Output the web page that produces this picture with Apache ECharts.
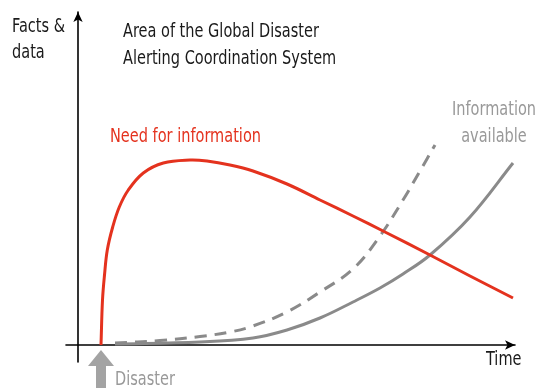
<!DOCTYPE html>
<html><head><meta charset="utf-8">
<script src="https://cdn.jsdelivr.net/npm/echarts@6/dist/echarts.min.js"></script>
<style>html,body{margin:0;padding:0;background:#fff}#c{width:538px;height:388px}</style>
</head><body><div id="c"></div>
<script>
// Need for information (red)
const needX = [2.3, 2.45, 2.65, 2.93, 3.47, 4.13, 5.03, 6.53, 8.53, 11.2, 12.9, 15.2, 17.5, 20.9, 24.2, 27.5, 30.7, 35.2, 39.2, 43.5];
const needY = [0, 4.5, 7.0, 9.5, 11.8, 13.8, 15.5, 17.2, 18.2, 18.5, 18.4, 18.0, 17.4, 16.1, 14.5, 12.9, 11.3, 9.0, 6.9, 4.7];
// Information available (dashed grey)
const dashX = [3.7, 8.2, 12.2, 15.2, 17.5, 20.9, 24.2, 27.5, 30.2, 32.5, 34.2, 35.7];
const dashY = [0.2, 0.45, 0.85, 1.3, 1.9, 3.3, 5.3, 7.6, 10.9, 14.5, 17.4, 20.0];
// Information available (solid grey)
const solidX = [3.7, 12.2, 17.5, 20.9, 24.2, 27.5, 30.2, 32.5, 35.2, 39.2, 43.5];
const solidY = [0.1, 0.3, 0.7, 1.5, 2.7, 4.3, 5.7, 7.1, 9.0, 12.8, 18.2];
const disasterX = 2.3;
const labels = {
  yTitle: 'Facts &\ndata',
  area: 'Area of the Global Disaster\nAlerting Coordination System',
  need: 'Need for information',
  avail: 'Information\navailable',
  xTitle: 'Time',
  disaster: 'Disaster'
};
const zip = (a, b) => a.map((v, i) => [v, b[i]]);
const FONT = '"DejaVu Sans Condensed", "DejaVu Sans", sans-serif';
const chart = echarts.init(document.getElementById('c'), null, {renderer: 'canvas'});
const axisCommon = {
  type: 'value',
  axisLine: {show: true, onZero: true, symbol: ['none', 'arrow'], symbolSize: [7, 10],
    lineStyle: {color: '#000', width: 1.6}},
  axisTick: {show: false}, axisLabel: {show: false}, splitLine: {show: false}
};
// smooth curve through the data points (chord-length weighted cardinal spline)
function curveSeries(xs, ys, style, z) {
  return {
    type: 'custom', data: zip(xs, ys), encode: {x: 0, y: 1}, clip: false, z: z,
    renderItem: function (params, api) {
      if (params.dataIndex !== 0) return null;
      const P = xs.map((x, i) => api.coord([x, ys[i]]));
      const n = P.length;
      const dist = (a, b) => Math.hypot(b[0] - a[0], b[1] - a[1]);
      const k = 0.38;
      let d = 'M' + P[0][0] + ' ' + P[0][1];
      for (let i = 0; i < n - 1; i++) {
        const p0 = P[Math.max(i - 1, 0)], p1 = P[i], p2 = P[i + 1], p3 = P[Math.min(i + 2, n - 1)];
        const dPrev = dist(p0, p1), dCur = dist(p1, p2), dNext = dist(p2, p3);
        const r1 = dCur / ((dPrev + dCur) || 1), r2 = dCur / ((dCur + dNext) || 1);
        const c1 = [p1[0] + (p2[0] - p0[0]) * r1 * k, p1[1] + (p2[1] - p0[1]) * r1 * k];
        const c2 = [p2[0] - (p3[0] - p1[0]) * r2 * k, p2[1] - (p3[1] - p1[1]) * r2 * k];
        d += ' C' + c1[0] + ' ' + c1[1] + ' ' + c2[0] + ' ' + c2[1] + ' ' + p2[0] + ' ' + p2[1];
      }
      return {type: 'path', shape: {pathData: d},
        style: Object.assign({fill: 'none', lineWidth: 3, lineCap: 'butt', lineJoin: 'round'}, style)};
    }
  };
}
chart.setOption({
  animation: false,
  backgroundColor: '#fff',
  grid: {left: 66, right: 23, top: 12, bottom: 26},
  xAxis: Object.assign({}, axisCommon, {min: -1.2, max: 43.7}),
  yAxis: Object.assign({}, axisCommon, {min: -1.7, max: 33.3}),
  series: [
    curveSeries(solidX, solidY, {stroke: '#8a8a8a'}, 2),
    curveSeries(dashX, dashY, {stroke: '#8a8a8a', lineDash: [12, 8]}, 2),
    curveSeries(needX, needY, {stroke: '#e4321e'}, 3)
  ]
});
const p0 = chart.convertToPixel({gridIndex: 0}, [disasterX, 0]);
const ax = p0[0], ay = p0[1] + 5;
const SX = 0.85;
const txt = (x, y, text, color, extra) => ({
  type: 'text', x: x, y: y, scaleX: SX,
  style: Object.assign({text: text, fill: color, font: '19px ' + FONT, lineHeight: 26.5,
    textVerticalAlign: 'middle'}, extra || {})
});
chart.setOption({
  graphic: [
    txt(12, 40, labels.yTitle, '#1a1a1a'),
    txt(123, 45.5, labels.area, '#1a1a1a'),
    txt(110, 137.5, labels.need, '#e4321e'),
    txt(494, 123.5, labels.avail, '#999', {textAlign: 'center'}),
    txt(486, 360.5, labels.xTitle, '#1a1a1a'),
    txt(115, 380, labels.disaster, '#999'),
    {type: 'polygon', shape: {points: [
      [ax, ay], [ax + 13, ay + 16], [ax + 5, ay + 16], [ax + 5, 388],
      [ax - 5, 388], [ax - 5, ay + 16], [ax - 13, ay + 16]]},
      style: {fill: '#a3a3a3'}}
  ]
});
</script></body></html>
